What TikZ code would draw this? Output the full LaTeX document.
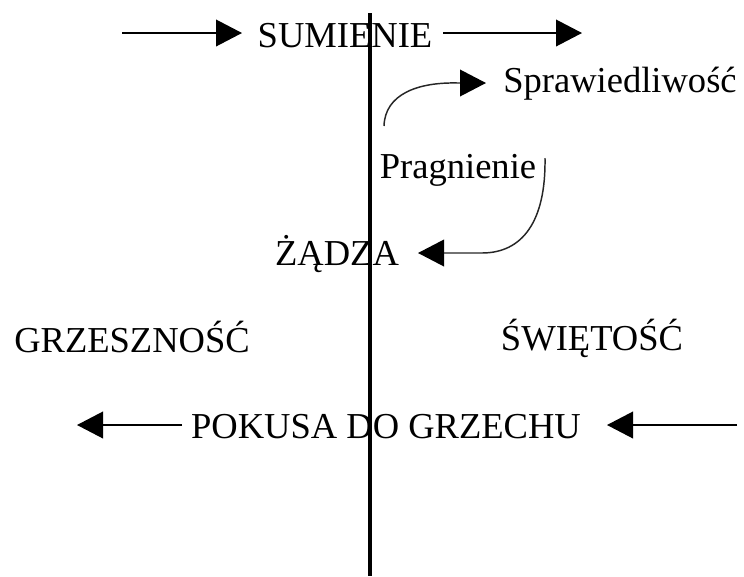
\documentclass[tikz,border=0pt]{standalone}
\usepackage{fontspec}
\setmainfont{Liberation Serif}
\usetikzlibrary{arrows.meta}
\begin{document}
\begin{tikzpicture}[x=0.75pt,y=-0.75pt,
  lbl/.style={inner sep=0pt,anchor=base,font=\fontsize{27.4}{30}\selectfont},
  arr/.style={line width=1.2pt,-{Triangle[length=19.5pt,width=20pt]}},
  curv/.style={line width=1.1pt,draw=black!85,-{Triangle[length=19.5pt,width=20pt,fill=black,color=black]}},
  axis/.style={line width=3pt}]
\useasboundingbox (0,0) rectangle (744,576);
% texts
\node[lbl] (sum) at (345,47) {SUMIENIE};
\node[lbl] (spr) at (620,92) {Sprawiedliwość};
\node[lbl] (pra) at (458,178) {Pragnienie};
\node[lbl] (zad) at (337,265) {ŻĄDZA};
\node[lbl] (grz) at (132,352) {GRZESZNOŚĆ};
\node[lbl] (swi) at (592,350) {ŚWIĘTOŚĆ};
\node[lbl] (pok) at (386,438) {POKUSA DO GRZECHU};
% free ends
\coordinate (tl0) at (122,33); \coordinate (tl1) at (242,33);
\coordinate (tr0) at (443,33); \coordinate (tr1) at (582,33);
\coordinate (bl0) at (182,425); \coordinate (bl1) at (77,425);
\coordinate (br0) at (737,425); \coordinate (br1) at (607,425);
\coordinate (c1s) at (384,126); \coordinate (c1e) at (486,83);
\coordinate (c2s) at (545,158); \coordinate (c2e) at (418,253);
\coordinate (vt) at (370,13); \coordinate (vb) at (370,576);
% arrows
\draw[arr] (tl0) -- (tl1);
\draw[arr] (tr0) -- (tr1);
\draw[arr] (bl0) -- (bl1);
\draw[arr] (br0) -- (br1);
\draw[curv] (c1s) .. controls (385,94) and (418,82) .. (458,83) -- (c1e);
\draw[curv] (c2s) .. controls (546,222) and (522,253) .. (482,253) -- (c2e);
% axis
\draw[axis] (vt) -- (vb);
\end{tikzpicture}
\end{document}
